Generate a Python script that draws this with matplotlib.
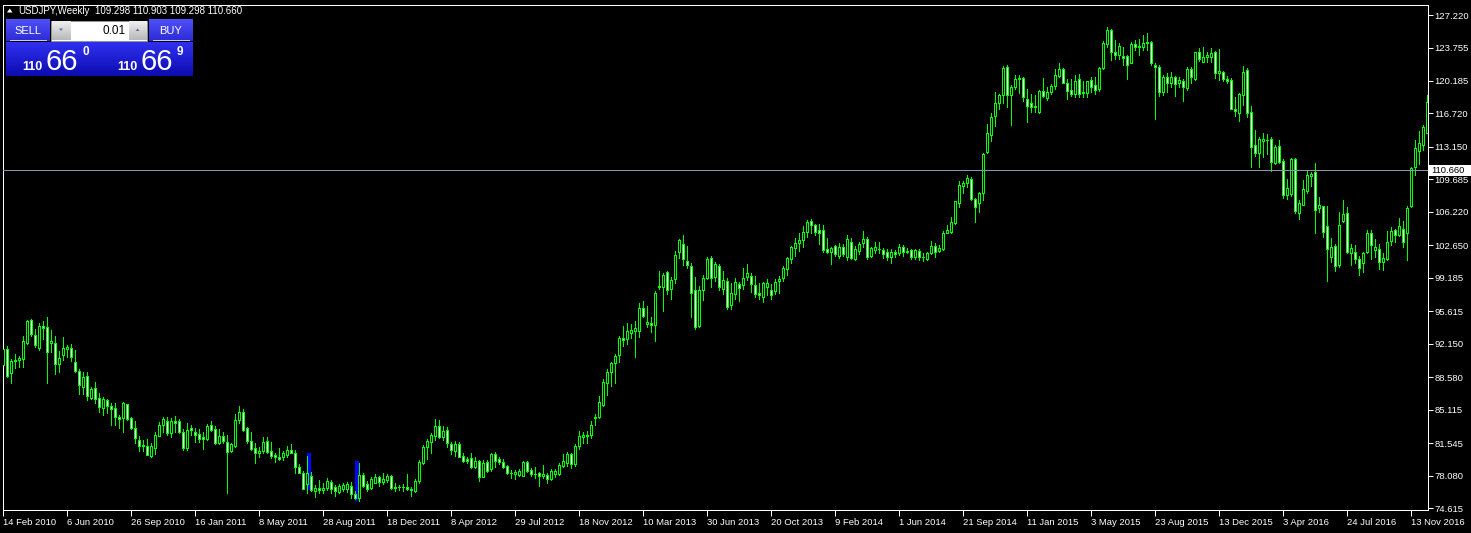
import matplotlib
matplotlib.use('Agg')
import matplotlib.pyplot as plt
import matplotlib.transforms as mtransforms
from matplotlib.colors import LinearSegmentedColormap
from matplotlib.patches import Rectangle, Polygon
import numpy as np
import pandas as pd

plt.rcParams['font.family'] = ['Liberation Sans', 'DejaVu Sans']

# DATA - USDJPY weekly candles
first_week = '2010-02-14'
opens = [
    89.90, 91.55, 89.00, 90.35, 90.45, 90.50, 92.28, 94.66, 93.06, 91.75,
    94.02, 93.90, 92.28, 92.21, 89.97, 90.93, 91.60, 91.75, 90.25, 89.22,
    87.58, 88.69, 86.34, 87.41, 86.34, 85.35, 86.17, 85.52, 85.27, 84.30,
    84.21, 85.70, 84.24, 83.14, 81.86, 81.30, 81.26, 80.23, 81.08, 82.36,
    83.46, 83.96, 82.61, 83.90, 83.89, 82.75, 81.08, 83.14, 82.72, 82.50,
    82.18, 82.00, 83.46, 83.07, 81.61, 82.32, 81.65, 80.72, 81.30, 84.03,
    84.88, 83.18, 81.79, 81.01, 80.55, 80.72, 81.79, 80.72, 80.33, 80.12,
    80.05, 80.30, 80.83, 80.48, 78.98, 78.34, 77.17, 78.06, 76.50, 76.78,
    76.60, 76.74, 77.42, 76.88, 76.35, 76.64, 76.67, 76.99, 76.14, 75.75,
    78.17, 77.21, 76.74, 77.35, 77.95, 77.45, 77.63, 78.06, 76.81, 76.87,
    76.90, 76.85, 76.71, 76.50, 77.53, 79.41, 81.15, 81.72, 82.33, 83.39,
    82.25, 82.97, 81.47, 80.76, 81.47, 80.19, 79.87, 79.98, 79.06, 79.62,
    77.99, 79.55, 78.77, 80.41, 79.87, 79.55, 79.13, 78.41, 78.27, 78.17,
    78.10, 79.55, 78.70, 78.27, 78.38, 78.10, 78.17, 77.74, 78.27, 78.27,
    79.12, 79.41, 80.41, 79.34, 81.26, 82.19, 82.47, 82.43, 84.20, 84.32,
    85.63, 88.01, 89.15, 90.07, 90.96, 92.77, 92.63, 93.34, 93.48, 93.55,
    95.94, 94.22, 94.37, 94.19, 98.18, 98.18, 99.85, 97.96, 99.10, 101.95,
    102.80, 100.98, 100.45, 97.89, 94.05, 97.89, 99.17, 101.30, 99.31, 100.45,
    98.00, 98.82, 96.29, 97.47, 98.53, 98.39, 99.24, 99.40, 98.40, 97.60,
    97.18, 98.17, 97.89, 97.75, 98.82, 99.17, 100.17, 101.16, 102.37, 102.94,
    103.22, 104.07, 105.21, 104.78, 104.29, 104.29, 102.23, 101.98, 102.58, 101.51,
    102.48, 101.37, 103.01, 101.23, 102.09, 102.94, 103.36, 101.51, 102.16, 102.23,
    102.16, 101.94, 101.44, 101.98, 101.80, 102.44, 101.98, 102.16, 101.37, 102.02,
    101.37, 101.23, 101.80, 102.55, 102.09, 102.23, 104.00, 104.07, 105.00, 107.20,
    109.02, 109.27, 109.69, 107.56, 107.20, 108.20, 112.65, 114.42, 116.45, 117.87,
    118.69, 121.64, 118.72, 119.58, 120.36, 120.46, 118.23, 117.80, 117.44, 116.91,
    119.08, 118.37, 119.05, 119.65, 120.71, 121.43, 120.00, 119.22, 118.80, 120.36,
    118.90, 118.87, 120.29, 119.72, 119.29, 121.53, 124.09, 125.62, 123.27, 122.92,
    122.85, 122.85, 122.14, 124.13, 123.77, 123.84, 124.23, 124.34, 121.89, 121.64,
    119.04, 120.57, 120.00, 120.57, 120.00, 120.15, 119.40, 121.43, 120.43, 123.31,
    122.24, 122.78, 122.78, 123.24, 121.06, 121.18, 120.36, 120.29, 117.20, 116.73,
    118.65, 121.35, 116.87, 113.35, 112.54, 113.78, 113.89, 113.96, 111.47, 113.25,
    111.65, 108.02, 108.13, 111.83, 106.14, 106.99, 108.49, 110.06, 110.44, 106.60,
    106.85, 104.72, 101.44, 102.58, 100.56, 105.29, 106.14, 101.80, 101.98, 101.16,
    100.74, 101.98, 104.01, 102.16, 102.23, 100.92, 101.20, 103.15, 104.29, 103.76,
    104.36, 104.01, 106.85, 110.98, 112.75, 113.33, 114.67,
]
highs = [
    92.10, 91.92, 90.50, 91.07, 90.86, 92.99, 94.70, 94.80, 93.70, 94.34,
    94.59, 94.98, 93.63, 92.99, 91.43, 92.85, 92.03, 92.14, 91.50, 89.47,
    89.15, 89.15, 87.52, 88.08, 86.88, 86.45, 86.31, 85.81, 85.81, 84.56,
    85.95, 85.74, 84.39, 83.96, 82.33, 81.90, 81.97, 81.54, 82.72, 83.82,
    84.32, 84.39, 84.21, 84.46, 84.10, 83.04, 83.68, 83.50, 83.21, 83.11,
    82.79, 83.64, 83.92, 83.39, 83.04, 82.79, 82.43, 81.54, 84.67, 85.52,
    85.17, 83.25, 82.75, 81.61, 81.19, 82.18, 82.25, 81.72, 80.55, 81.01,
    80.72, 81.26, 81.47, 80.83, 79.34, 78.63, 80.19, 78.48, 77.10, 77.63,
    77.28, 77.81, 77.63, 77.10, 77.21, 77.35, 77.42, 77.42, 76.50, 79.48,
    78.41, 77.56, 77.92, 78.27, 78.06, 78.41, 78.27, 78.17, 77.28, 77.10,
    77.21, 78.27, 76.92, 77.77, 79.77, 81.37, 81.97, 82.68, 84.14, 84.03,
    83.39, 83.25, 81.72, 81.83, 81.69, 80.55, 80.05, 80.48, 80.05, 79.77,
    79.77, 79.77, 80.55, 80.62, 80.12, 79.91, 79.27, 78.70, 78.70, 78.84,
    79.62, 79.69, 78.88, 79.06, 78.52, 79.23, 78.34, 78.77, 78.84, 79.48,
    80.41, 80.65, 80.55, 81.47, 82.86, 82.79, 82.89, 83.96, 84.67, 86.59,
    88.37, 89.47, 90.21, 91.07, 92.99, 94.05, 94.41, 94.27, 94.62, 96.54,
    96.68, 96.18, 95.05, 97.82, 99.95, 99.67, 99.95, 99.24, 102.09, 103.37,
    103.79, 102.58, 100.74, 99.24, 98.32, 99.49, 101.38, 101.52, 100.88, 100.67,
    99.95, 99.17, 98.67, 99.14, 98.78, 100.20, 100.67, 99.67, 99.38, 98.67,
    98.75, 99.03, 98.53, 99.03, 99.38, 100.45, 101.45, 102.58, 103.40, 103.93,
    104.71, 105.35, 105.46, 104.93, 104.93, 104.82, 103.43, 102.51, 102.69, 102.87,
    102.80, 103.76, 103.43, 102.58, 103.01, 104.22, 103.51, 102.51, 103.05, 103.01,
    102.37, 102.30, 102.23, 102.16, 102.80, 102.65, 102.37, 102.23, 102.23, 102.30,
    101.80, 101.94, 103.15, 102.94, 102.69, 104.15, 104.82, 105.71, 107.42, 109.48,
    109.55, 110.15, 109.91, 107.67, 108.38, 112.46, 115.60, 116.80, 119.01, 118.80,
    121.78, 121.89, 119.72, 120.79, 120.82, 120.64, 119.29, 118.80, 118.65, 119.22,
    120.46, 119.50, 119.86, 121.43, 122.14, 121.53, 120.36, 120.36, 120.82, 120.93,
    120.22, 120.22, 120.64, 120.57, 121.64, 124.48, 125.90, 125.76, 124.55, 124.20,
    123.77, 122.92, 124.34, 124.55, 124.70, 125.09, 125.26, 124.48, 122.06, 121.89,
    120.82, 121.07, 121.18, 120.71, 120.57, 120.36, 121.64, 121.64, 123.31, 123.66,
    123.77, 123.27, 123.66, 123.42, 123.56, 121.28, 120.71, 120.47, 118.44, 118.94,
    121.78, 121.53, 117.51, 114.96, 114.24, 114.60, 114.53, 114.17, 113.35, 113.89,
    111.83, 109.69, 111.93, 111.97, 107.49, 109.62, 110.62, 110.51, 111.40, 107.85,
    106.85, 106.85, 103.40, 102.80, 106.25, 107.49, 106.78, 102.80, 102.70, 101.52,
    101.98, 104.29, 104.29, 103.37, 102.80, 101.80, 104.22, 104.65, 104.36, 105.54,
    105.29, 106.85, 110.98, 113.89, 114.89, 115.49, 118.69,
]
lows = [
    89.55, 88.58, 88.01, 89.54, 89.72, 89.72, 92.14, 92.99, 91.85, 91.50,
    92.67, 87.94, 91.32, 88.94, 89.19, 90.43, 90.79, 90.36, 89.19, 86.81,
    86.81, 86.17, 86.24, 85.81, 84.92, 84.56, 84.81, 83.50, 83.50, 83.21,
    82.79, 84.03, 83.04, 81.62, 80.76, 80.76, 80.30, 80.12, 80.41, 82.36,
    82.79, 82.43, 82.25, 82.79, 82.68, 80.83, 80.83, 82.43, 81.72, 81.72,
    80.94, 81.90, 82.89, 81.47, 81.47, 81.54, 76.28, 80.65, 81.19, 83.75,
    82.89, 81.54, 80.83, 79.48, 80.12, 80.55, 80.48, 79.94, 79.55, 79.77,
    79.77, 80.12, 80.48, 78.41, 78.34, 76.64, 76.21, 76.46, 75.85, 76.28,
    76.28, 76.57, 76.28, 75.92, 76.21, 76.50, 76.39, 75.68, 75.57, 75.43,
    76.92, 76.42, 76.64, 77.28, 76.99, 77.21, 77.46, 76.71, 76.50, 76.57,
    76.50, 76.57, 75.92, 76.39, 77.28, 79.34, 79.84, 80.48, 81.90, 82.08,
    81.90, 81.19, 80.41, 80.19, 80.05, 79.59, 79.41, 78.88, 78.88, 77.56,
    77.92, 78.52, 78.63, 79.06, 79.34, 78.91, 78.27, 77.81, 77.70, 78.06,
    78.06, 78.52, 78.06, 77.81, 77.00, 77.81, 77.28, 77.63, 77.92, 78.17,
    79.06, 79.13, 78.88, 79.13, 80.90, 81.62, 81.62, 82.08, 83.50, 84.21,
    85.52, 86.70, 87.65, 88.01, 90.25, 91.92, 92.13, 92.74, 90.78, 92.85,
    94.98, 93.98, 93.41, 92.49, 97.96, 95.69, 97.46, 96.97, 98.60, 101.27,
    100.56, 100.20, 94.98, 93.77, 93.91, 96.83, 99.03, 98.18, 98.89, 97.89,
    97.46, 95.83, 95.90, 96.90, 96.75, 98.03, 98.96, 97.71, 97.10, 96.90,
    96.61, 97.36, 96.90, 97.46, 97.54, 98.89, 99.53, 100.74, 101.52, 102.08,
    102.44, 103.58, 103.93, 103.72, 102.80, 101.98, 101.80, 100.66, 101.52, 101.27,
    101.52, 101.09, 101.16, 101.09, 101.73, 102.51, 101.23, 101.37, 101.87, 101.80,
    101.27, 101.09, 100.80, 101.44, 101.62, 101.52, 101.80, 101.23, 101.23, 101.09,
    101.02, 101.09, 101.73, 101.44, 101.98, 102.16, 103.93, 104.00, 104.93, 106.78,
    108.20, 108.91, 107.49, 105.18, 106.21, 107.49, 112.54, 113.82, 115.38, 117.23,
    117.87, 117.44, 115.49, 119.29, 118.87, 118.08, 115.81, 116.91, 116.91, 116.73,
    118.44, 118.15, 118.80, 119.36, 120.57, 119.93, 118.26, 118.58, 118.51, 118.51,
    118.51, 118.51, 119.04, 118.80, 119.15, 121.43, 123.84, 122.42, 122.49, 122.49,
    121.89, 120.43, 122.07, 123.49, 122.96, 123.49, 123.49, 121.89, 116.09, 118.58,
    118.69, 119.04, 119.58, 118.58, 119.58, 118.08, 119.22, 120.00, 120.29, 122.35,
    122.21, 122.24, 122.24, 120.47, 120.29, 120.22, 119.93, 117.16, 116.45, 115.95,
    117.62, 116.31, 110.97, 112.18, 111.04, 112.11, 112.40, 110.62, 111.33, 111.47,
    107.67, 107.56, 107.92, 106.14, 105.43, 106.96, 108.27, 108.98, 104.00, 106.25,
    103.58, 98.89, 100.91, 99.95, 100.38, 105.18, 101.80, 100.56, 100.74, 99.49,
    99.85, 101.80, 101.16, 101.45, 100.10, 100.03, 101.09, 102.70, 103.05, 103.65,
    102.52, 101.09, 106.71, 110.16, 111.33, 112.82, 114.67,
]
closes = [
    91.55, 88.72, 90.29, 90.45, 90.65, 92.42, 94.59, 93.17, 92.03, 94.02,
    93.85, 91.30, 92.46, 89.97, 90.60, 91.67, 91.80, 90.72, 89.22, 87.73,
    88.58, 86.63, 87.30, 86.31, 85.38, 86.24, 85.52, 85.24, 84.32, 84.14,
    85.81, 84.14, 83.14, 82.08, 81.30, 81.36, 80.30, 81.26, 82.43, 83.46,
    84.10, 82.61, 83.96, 83.75, 82.79, 81.08, 82.97, 82.93, 82.47, 81.97,
    81.95, 83.39, 82.96, 81.61, 82.32, 81.79, 80.65, 81.47, 84.03, 84.88,
    82.96, 81.79, 80.94, 80.55, 80.74, 81.68, 80.65, 80.16, 80.12, 79.91,
    80.48, 80.83, 80.55, 79.05, 78.41, 76.71, 78.38, 76.57, 76.78, 76.57,
    76.78, 77.53, 76.64, 76.46, 77.03, 77.10, 77.21, 76.14, 75.75, 78.17,
    76.99, 76.67, 77.70, 77.92, 77.42, 77.74, 78.06, 76.81, 76.87, 76.90,
    76.92, 76.64, 76.57, 77.53, 79.52, 81.12, 81.79, 82.43, 83.39, 82.25,
    82.86, 81.54, 80.83, 81.47, 80.12, 79.70, 79.70, 78.98, 79.62, 77.92,
    79.48, 78.63, 80.41, 79.70, 79.59, 79.06, 78.41, 78.34, 78.48, 78.56,
    79.55, 78.63, 78.27, 78.27, 78.10, 78.31, 77.74, 78.56, 78.63, 79.23,
    79.62, 80.41, 79.34, 81.26, 82.33, 82.47, 82.33, 83.50, 84.38, 85.92,
    88.08, 89.15, 90.10, 90.85, 92.77, 92.56, 93.48, 93.63, 93.80, 95.97,
    95.15, 94.50, 94.12, 97.54, 98.32, 99.49, 97.89, 98.96, 101.59, 103.22,
    101.23, 100.56, 97.54, 93.91, 97.89, 99.17, 101.16, 99.17, 100.66, 98.25,
    98.96, 96.11, 97.54, 98.75, 98.10, 99.14, 99.74, 98.53, 97.50, 97.35,
    98.60, 98.68, 97.39, 98.75, 99.03, 100.24, 101.30, 102.51, 102.87, 103.22,
    104.07, 105.14, 104.82, 104.07, 104.00, 102.16, 101.98, 102.33, 101.73, 102.51,
    101.73, 103.29, 101.27, 102.23, 102.80, 103.29, 101.44, 102.37, 102.44, 102.23,
    101.73, 101.37, 101.98, 101.73, 102.51, 101.98, 102.05, 101.37, 102.16, 101.37,
    101.44, 101.80, 102.55, 101.98, 102.37, 103.93, 104.29, 105.14, 107.35, 109.05,
    109.30, 109.80, 107.63, 106.78, 108.20, 112.39, 114.60, 116.31, 117.80, 118.69,
    121.53, 118.72, 119.50, 120.36, 120.47, 118.51, 117.52, 117.37, 117.51, 119.15,
    118.58, 119.01, 119.65, 120.82, 121.43, 120.00, 119.15, 118.80, 120.22, 118.80,
    119.01, 120.15, 119.51, 119.22, 121.53, 124.20, 125.62, 123.31, 122.92, 123.91,
    122.64, 121.92, 124.13, 123.77, 123.91, 124.20, 124.34, 122.07, 121.71, 119.04,
    120.57, 120.00, 120.57, 119.86, 120.29, 119.50, 121.43, 120.64, 123.24, 122.56,
    122.78, 122.92, 123.13, 121.00, 121.21, 120.43, 120.22, 117.23, 117.02, 118.80,
    121.14, 116.80, 113.18, 112.54, 113.96, 114.03, 113.89, 111.58, 113.18, 111.58,
    108.02, 108.73, 111.83, 106.35, 107.20, 108.63, 110.16, 110.27, 106.42, 106.96,
    104.11, 102.23, 102.44, 100.45, 104.83, 106.00, 101.98, 102.34, 101.16, 100.20,
    101.80, 103.94, 102.70, 102.45, 100.92, 101.27, 103.01, 104.22, 103.76, 104.72,
    103.05, 106.60, 110.87, 113.00, 113.54, 115.24, 117.98,
]

date_labels = ['14 Feb 2010', '6 Jun 2010', '26 Sep 2010', '16 Jan 2011', '8 May 2011',
               '28 Aug 2011', '18 Dec 2011', '8 Apr 2012', '29 Jul 2012', '18 Nov 2012',
               '10 Mar 2013', '30 Jun 2013', '20 Oct 2013', '9 Feb 2014', '1 Jun 2014',
               '21 Sep 2014', '11 Jan 2015', '3 May 2015', '23 Aug 2015', '13 Dec 2015',
               '3 Apr 2016', '24 Jul 2016', '13 Nov 2016']
price_ticks = [127.220, 123.755, 120.185, 116.720, 113.150, 109.685, 106.220, 102.650,
               99.185, 95.615, 92.150, 88.580, 85.115, 81.545, 78.080, 74.615]
last_price = 110.660
header_ohlc = '109.298 110.903 109.298 110.660'

# blue highlighted weeks (intervention marks)
mark_pos = [76.43, 88.43]
mark_low = [76.57, 75.43]
mark_high = [80.48, 79.66]

LIME = '#00ff00'
W, H = 1471, 533
PX = 0.72  # one pixel in points

fig = plt.figure(figsize=(W / 100, H / 100), dpi=100, facecolor='black')
ax = fig.add_axes([2.5 / W, 1 - 510 / H, (1428 - 2.5) / W, (510 - 5) / H])
ax.set_facecolor('black')

o = np.array(opens)
h = np.array(highs)
l = np.array(lows)
c = np.array(closes)
x = np.arange(len(c))
up = c >= o

ax.bar(mark_pos, np.array(mark_high) - np.array(mark_low), bottom=mark_low,
       width=0.85, color='#0000ff', linewidth=0, antialiased=False, zorder=1)
ax.vlines(x, l, h, color=LIME, linewidth=PX, antialiased=False, zorder=2)
ax.bar(x[up], (c - o)[up], bottom=o[up], width=0.5, color='black',
       edgecolor=LIME, linewidth=PX, antialiased=False, zorder=3)
ax.bar(x[~up], (o - c)[~up], bottom=c[~up], width=0.5, color='white',
       edgecolor=LIME, linewidth=PX, antialiased=False, zorder=3)

ax.axhline(last_price, color='#8898aa', linewidth=PX, zorder=4)

ax.set_xlim(-0.2, 356.18)
ax.set_ylim(74.43, 128.29)

# axes frame and ticks
for sp in ax.spines.values():
    sp.set_color('white')
    sp.set_linewidth(PX)

weeks = pd.date_range(first_week, periods=len(c), freq='7D')
label_pos = weeks.get_indexer(pd.to_datetime(date_labels, format='%d %b %Y'))
ax.set_xticks(label_pos, date_labels)
for lbl in ax.get_xticklabels():
    lbl.set_horizontalalignment('left')
ax.tick_params(axis='x', colors='white', length=4, width=PX, labelsize=6.8, pad=1.5)

ax.yaxis.tick_right()
ax.set_yticks(price_ticks, ['%.3f' % v for v in price_ticks])
ax.tick_params(axis='y', colors='white', length=3.5, width=PX, labelsize=6.8, pad=1)

# current price label on the scale
trans = mtransforms.blended_transform_factory(ax.transAxes, ax.transData)
ax.add_patch(Rectangle((1.0008, last_price - 0.6), 0.0305, 1.2, transform=trans,
                       facecolor='white', edgecolor='none', clip_on=False, zorder=6))
ax.text(1.0025, last_price, '%.3f' % last_price, transform=trans, color='black',
        fontsize=6.8, va='center', ha='left', clip_on=False, zorder=7)

# overlay in pixel coordinates for the header and the one-click panel
ov = fig.add_axes([0, 0, 1, 1], zorder=10)
ov.set_xlim(0, W)
ov.set_ylim(H, 0)
ov.axis('off')
ov.patch.set_alpha(0)


def grad_box(x0, y0, x1, y1, top, bottom):
    cmap = LinearSegmentedColormap.from_list('g', [top, bottom])
    ov.imshow(np.linspace(0, 1, 64)[:, None], extent=(x0, x1, y1, y0), cmap=cmap,
              aspect='auto', interpolation='bilinear', zorder=1)


ov.add_patch(Polygon([(7, 12.5), (12.5, 12.5), (9.75, 8.5)], closed=True,
                     facecolor='white', edgecolor='none'))
ov.text(18, 10.5, 'USDJPY,Weekly', color='white', fontsize=7, va='center', ha='left')
ov.text(95, 10.5, header_ohlc, color='white', fontsize=7, va='center', ha='left')

# sell / buy buttons
grad_box(6, 19.5, 49.5, 41.5, '#5050f8', '#2c2cd8')
grad_box(149.5, 19.5, 193.5, 41.5, '#5050f8', '#2c2cd8')
ov.plot([10, 46], [40, 40], color='#c8c8ff', lw=PX, zorder=2)
ov.plot([153, 189], [40, 40], color='#c8c8ff', lw=PX, zorder=2)
ov.text(27.5, 30.5, 'SELL', color='white', fontsize=8, ha='center', va='center', zorder=3)
ov.text(171, 30.5, 'BUY', color='white', fontsize=8, ha='center', va='center', zorder=3)

# lot size box
ov.add_patch(Rectangle((51.5, 20.5), 95.5, 20, facecolor='white', edgecolor='#909090',
                       lw=PX, zorder=1))
grad_box(52, 21, 70.5, 40, '#f0f0f0', '#b8b8b8')
grad_box(129, 21, 146.5, 40, '#f0f0f0', '#b8b8b8')
ov.add_patch(Polygon([(59, 28.5), (63, 28.5), (61, 31)], closed=True,
                     facecolor='#6070a0', edgecolor='none', zorder=3))
ov.add_patch(Polygon([(135.5, 31), (139.5, 31), (137.5, 28.5)], closed=True,
                     facecolor='#6070a0', edgecolor='none', zorder=3))
ov.text(126, 30.5, '0.01', color='black', fontsize=8.5, ha='right', va='center', zorder=3)

# price boxes
grad_box(6, 42.5, 99.5, 76, '#3030f0', '#0c0cb0')
grad_box(100.5, 42.5, 193.5, 76, '#3030f0', '#0c0cb0')
for x0, big, small in [(22.5, '66', '0'), (117, '66', '9')]:
    ov.text(x0, 70.5, '110', color='white', fontsize=9, fontweight='bold',
            ha='left', va='baseline', zorder=3)
    ov.text(x0 + 23.5, 69.5, big, color='white', fontsize=21,
            ha='left', va='baseline', zorder=3)
    ov.text(x0 + 60, 55, small, color='white', fontsize=8.5, fontweight='bold',
            ha='left', va='baseline', zorder=3)

ov.set_xlim(0, W)
ov.set_ylim(H, 0)

fig.savefig('out.png', dpi=100, facecolor='black')
